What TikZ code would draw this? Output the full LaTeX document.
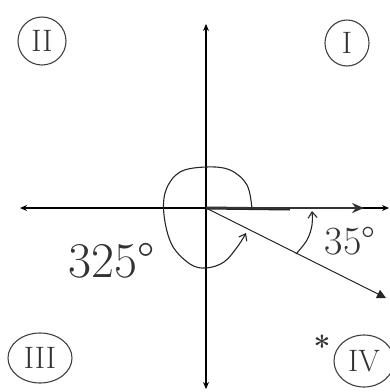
\documentclass[tikz,border=0pt]{standalone}
\usepackage{fontspec}
\usetikzlibrary{arrows.meta,shapes.geometric}
\begin{document}
\begin{tikzpicture}[x=1pt,y=-1pt,
  axis/.style={line width=1.4pt,{Stealth[length=7pt,width=6pt]}-{Stealth[length=7pt,width=6pt]}},
  quad/.style={draw,line width=1.1pt,ellipse,inner sep=0pt,font=\fontsize{31}{31}\selectfont,text=black!80,draw=black!75},
  angtxt/.style={font=\fontsize{50}{50}\selectfont,text=black!80,inner sep=0pt},
  thin/.style={line width=1.1pt,black!85}]
\useasboundingbox (0,0) rectangle (390,392);
\coordinate (O) at (206,208);
\coordinate (L) at (20,208);
\coordinate (R) at (389,208);
\coordinate (T) at (206,24);
\coordinate (B) at (206,389);
\draw[axis] (L) -- (R);
\draw[axis] (B) -- (T);
% initial side (thick)
\coordinate (I1) at (290,209);
\coordinate (I2) at (364,208);
\draw[line width=3pt,black!85] (O) -- (I1);
\draw[line width=2pt,black!80,-{Stealth[length=12pt,width=10pt]}] (O) -- (I2);
% terminal side
\coordinate (Tm) at (386,298);
\draw[thin,-{Triangle[length=9pt,width=9pt]}] (O) -- (Tm);
% 325 arc
\draw[thin,-{Straight Barb[length=6pt,width=9pt]}] plot[smooth,tension=0.6] coordinates {(252,209) (247,185) (230,170) (206,167) (180,172) (166,190) (164,215) (172,245) (190,264) (206,268) (224,262) (238,246) (246,233)};
% 35 arc
\draw[thin,-{Straight Barb[length=6pt,width=9pt]}] plot[smooth,tension=0.6] coordinates {(296,254) (307,240) (312,225) (312,211)};
% labels
\node[angtxt,font=\fontsize{40}{40}\selectfont] (a35) at (350,241) {35°};
\node[angtxt] (a325) at (112,261) {325°};
\node[quad,minimum width=48pt,minimum height=48pt] (q2) at (42,41) {II};
\node[quad,minimum width=44pt,minimum height=46pt] (q1) at (347,43) {I};
\node[quad,minimum width=64pt,minimum height=50pt] (q3) at (40,358) {III};
\node[quad,minimum width=60pt,minimum height=52pt] (q4) at (364,361) {IV};
\node[font=\fontsize{30}{30}\selectfont\bfseries,text=black!80] (star) at (322,346) {*};
\end{tikzpicture}
\end{document}
